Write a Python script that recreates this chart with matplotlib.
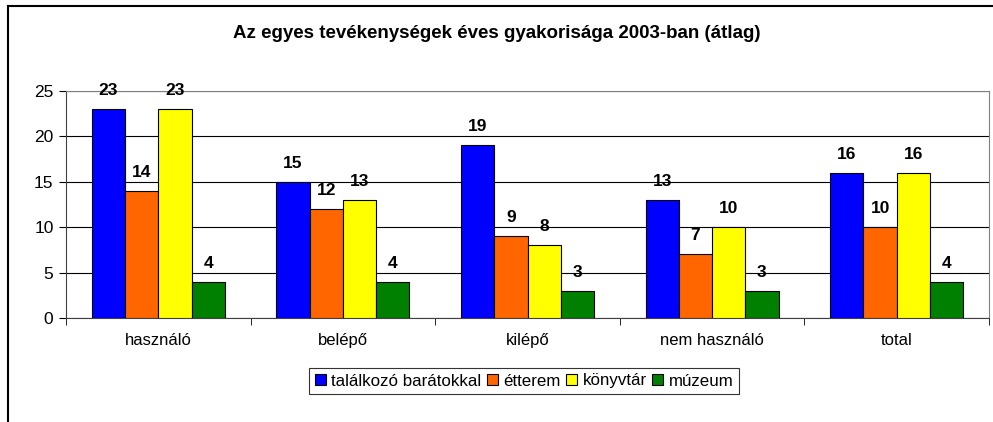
import numpy as np
import matplotlib.pyplot as plt
from matplotlib.lines import Line2D

plt.rcParams['font.family'] = ['Liberation Sans', 'DejaVu Sans']

categories = ['használó', 'belépő', 'kilépő', 'nem használó', 'total']
series = ['találkozó barátokkal', 'étterem', 'könyvtár', 'múzeum']
values = [
    [23, 15, 19, 13, 16],
    [14, 12, 9, 7, 10],
    [23, 13, 8, 10, 16],
    [4, 4, 3, 3, 4],
]
colors = ['#0000ff', '#ff6600', '#ffff00', '#008000']

W, H = 993, 422
fig = plt.figure(figsize=(W / 100, H / 100), dpi=100)
ax = fig.add_axes([66 / W, 1 - 318 / H, (989 - 66) / W, (318 - 91) / H])

x = np.arange(len(categories))
bw = 0.18
for i, (name, vals, c) in enumerate(zip(series, values, colors)):
    pos = x + (i - 1.5) * bw
    bars = ax.bar(pos, vals, bw, color=c, edgecolor='black', linewidth=0.8,
                  label=name, zorder=3)
    for b, v in zip(bars, vals):
        ax.annotate(str(v), (b.get_x() + b.get_width() / 2, v),
                    xytext=(0, 8), textcoords='offset points',
                    ha='center', va='bottom', fontsize=12.5, fontweight='bold')

ax.set_xlim(-0.5, len(categories) - 0.5)
ax.set_ylim(0, 25)
ax.set_yticks(range(0, 26, 5))
ax.yaxis.grid(True, color='black', linewidth=0.8)
ax.set_axisbelow(True)
ax.set_xticks(x)
ax.set_xticklabels(categories)
ax.set_xticks(np.arange(-0.5, len(categories), 1), minor=True)
ax.tick_params(axis='x', which='major', length=0, pad=11, labelsize=12)
ax.tick_params(axis='x', which='minor', length=5, direction='out')
ax.tick_params(axis='y', length=5, labelsize=12.5, pad=4)
for s in ['top', 'right']:
    ax.spines[s].set_color('#808080')
for s in ['left', 'bottom']:
    ax.spines[s].set_color('#404040')

fig.text(0.5, 1 - 33 / H, 'Az egyes tevékenységek éves gyakorisága 2003-ban (átlag)',
         ha='center', va='center', fontsize=13.5, fontweight='bold')

leg = fig.legend(loc='center', bbox_to_anchor=(524 / W, 1 - 381 / H), ncol=4,
                 frameon=True, fancybox=False, edgecolor='black', fontsize=12.2,
                 handlelength=0.65, handleheight=0.65, handletextpad=0.3,
                 columnspacing=0.35, borderpad=0.35)
leg.get_frame().set_linewidth(0.8)

# outer chart border (top and left visible)
fig.add_artist(Line2D([8 / W, 1], [1 - 5.5 / H, 1 - 5.5 / H], color='black', linewidth=1.5))
fig.add_artist(Line2D([8 / W, 8 / W], [0, 1 - 5.5 / H], color='black', linewidth=1.5))

fig.savefig('out.png', dpi=100)
